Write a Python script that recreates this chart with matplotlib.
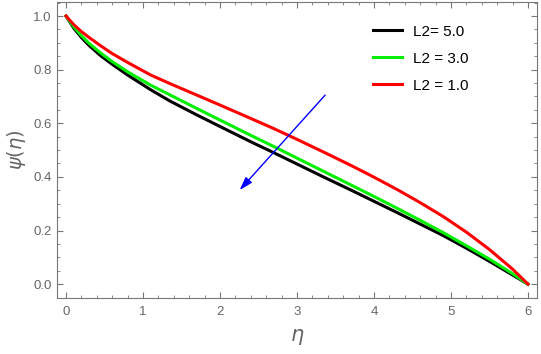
import numpy as np
import matplotlib
matplotlib.use("Agg")
from matplotlib import pyplot as plt
from matplotlib.ticker import MultipleLocator

plt.rcParams['font.family'] = ['Liberation Sans', 'DejaVu Sans']

eta = [0, 0.1, 0.2, 0.3, 0.45, 0.6, 0.8, 1.1, 1.35, 1.7, 2.0, 2.4, 2.7, 3.0,
       3.35, 3.7, 4.0, 4.3, 4.6, 4.9, 5.2, 5.5, 5.8, 6.0]

psi_L5 = [1.0, 0.955, 0.92, 0.89, 0.852, 0.82, 0.78, 0.725, 0.683, 0.631,
          0.588, 0.531, 0.49, 0.448, 0.399, 0.351, 0.309, 0.267, 0.224, 0.181,
          0.134, 0.085, 0.034, 0.0]
psi_L3 = [1.0, 0.96, 0.927, 0.898, 0.862, 0.83, 0.792, 0.742, 0.706, 0.655,
          0.612, 0.555, 0.513, 0.47, 0.42, 0.37, 0.327, 0.283, 0.238, 0.192,
          0.143, 0.093, 0.039, 0.0]
psi_L1 = [1.0, 0.968, 0.942, 0.92, 0.889, 0.86, 0.827, 0.78, 0.748, 0.705,
          0.668, 0.618, 0.58, 0.54, 0.492, 0.443, 0.399, 0.353, 0.304, 0.252,
          0.194, 0.129, 0.056, 0.0]

labels = ["L2= 5.0", "L2 = 3.0", "L2 = 1.0"]
colors = ["black", "#00ee00", "red"]

# arrow showing direction of increasing L2
arrow_tail = (3.39, 0.713)
arrow_head = (2.23, 0.343)

fig = plt.figure(figsize=(5.41, 3.54), dpi=100)
ax = fig.add_axes([0.105, 0.158, 0.888, 0.836])

for y, lab, c in zip([psi_L5, psi_L3, psi_L1], labels, colors):
    ax.plot(eta, y, color=c, lw=2.2, label=lab)

ax.annotate("", xy=arrow_head, xytext=arrow_tail,
            arrowprops=dict(arrowstyle="-|>,head_length=0.8,head_width=0.25",
                            color="blue", lw=1.0))

ax.set_xlim(-0.12, 6.12)
ax.set_ylim(-0.052, 1.052)
ax.xaxis.set_major_locator(MultipleLocator(1))
ax.xaxis.set_minor_locator(MultipleLocator(0.2))
ax.yaxis.set_major_locator(MultipleLocator(0.2))
ax.yaxis.set_minor_locator(MultipleLocator(0.05))
ax.yaxis.set_major_formatter(matplotlib.ticker.FormatStrFormatter('%.1f'))

grey = "#777777"
for s in ax.spines.values():
    s.set_color(grey)
ax.tick_params(which='both', direction='in', top=True, right=True,
               colors=grey, labelcolor="#666666", labelsize=9.5)
ax.tick_params(which='major', length=4.5)
ax.tick_params(which='minor', length=2.5)
ax.tick_params(axis='x', pad=6)

ax.set_xlabel(r"$\eta$", fontsize=15, color="#666666", labelpad=6)
ax.set_ylabel(r"$\psi(\eta)$", fontsize=14, color="#666666", labelpad=4)

ax.legend(loc='upper left', bbox_to_anchor=(0.63, 0.97), frameon=False,
          fontsize=11, handlelength=1.9, labelspacing=0.85, handletextpad=0.7)

fig.savefig("out.png", dpi=100)
